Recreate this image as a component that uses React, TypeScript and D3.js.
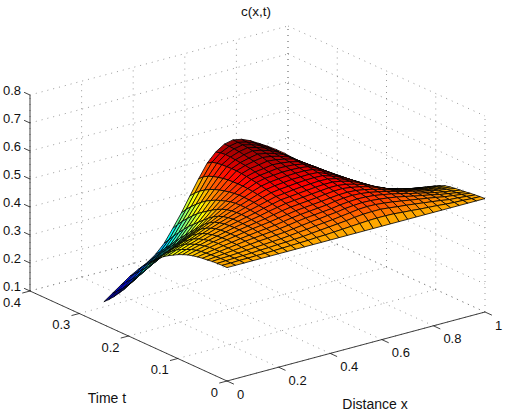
import React from "react";
import * as d3 from "d3";

const xTicks = [0, 0.2, 0.4, 0.6, 0.8, 1];
const tTicks = [0, 0.1, 0.2, 0.3, 0.4];
const zTicks = [0.1, 0.2, 0.3, 0.4, 0.5, 0.6, 0.7, 0.8];

// mesh: 31 x stations, 26 time rows
const xGrid = d3.range(31).map((i) => i / 30);
const tGrid = d3.range(26).map((k) => k / 100);

const t00 = [.505,.505,.505,.505,.505,.505,.505,.505,.505,.505,.505,.505,.505,.505,.505,.505,.505,.505,.505,.505,.505,.505,.505,.505,.505,.505,.505,.505,.505,.505,.505];
const t01 = [.505,.505,.506,.506,.507,.507,.508,.509,.510,.511,.512,.514,.515,.517,.519,.521,.523,.525,.526,.526,.525,.522,.520,.517,.515,.513,.510,.508,.507,.505,.504];
const t02 = [.504,.505,.506,.507,.508,.510,.511,.513,.514,.516,.518,.521,.524,.527,.530,.533,.537,.540,.541,.541,.538,.534,.531,.527,.523,.519,.515,.510,.508,.505,.502];
const t03 = [.503,.505,.506,.508,.510,.512,.514,.516,.518,.521,.524,.527,.531,.534,.537,.541,.545,.549,.551,.550,.547,.543,.538,.533,.528,.523,.518,.512,.508,.504,.500];
const t04 = [.500,.503,.506,.509,.512,.515,.518,.520,.523,.525,.529,.533,.537,.540,.544,.547,.552,.555,.557,.556,.553,.549,.544,.538,.531,.525,.519,.512,.507,.502,.497];
const t05 = [.498,.502,.506,.510,.514,.518,.521,.524,.527,.530,.534,.539,.543,.546,.549,.552,.557,.560,.562,.561,.558,.553,.547,.540,.532,.525,.518,.511,.505,.500,.495];
const t06 = [.495,.500,.505,.510,.514,.519,.523,.527,.530,.534,.539,.544,.548,.551,.554,.557,.562,.565,.567,.565,.561,.555,.548,.540,.531,.524,.516,.509,.503,.498,.493];
const t07 = [.491,.498,.504,.510,.515,.520,.525,.530,.534,.538,.543,.548,.553,.556,.559,.562,.566,.569,.570,.568,.563,.556,.547,.537,.527,.519,.512,.505,.499,.494,.490];
const t08 = [.486,.494,.501,.508,.514,.520,.526,.531,.536,.541,.547,.553,.558,.561,.564,.567,.571,.574,.575,.571,.565,.557,.546,.534,.522,.514,.506,.499,.494,.490,.486];
const t09 = [.479,.489,.497,.505,.512,.519,.526,.532,.538,.544,.551,.557,.563,.566,.569,.572,.575,.578,.578,.574,.566,.557,.544,.530,.515,.506,.498,.490,.485,.482,.479];
const t10 = [.471,.481,.491,.500,.509,.517,.525,.532,.539,.546,.554,.561,.568,.571,.574,.577,.580,.582,.582,.577,.568,.556,.541,.524,.508,.497,.488,.480,.476,.473,.470];
const t11 = [.461,.473,.484,.494,.504,.514,.523,.532,.540,.548,.556,.564,.572,.575,.579,.582,.584,.586,.585,.578,.567,.555,.538,.520,.503,.491,.481,.472,.467,.463,.460];
const t12 = [.451,.463,.475,.486,.497,.508,.519,.529,.539,.549,.559,.568,.577,.581,.584,.587,.589,.590,.589,.579,.567,.553,.535,.516,.498,.486,.475,.465,.459,.454,.450];
const t13 = [.439,.450,.462,.474,.487,.500,.513,.525,.537,.549,.560,.571,.581,.586,.589,.592,.593,.594,.592,.580,.566,.551,.532,.513,.494,.481,.469,.458,.451,.445,.440];
const t14 = [.425,.436,.448,.461,.475,.489,.503,.518,.533,.548,.561,.574,.585,.591,.594,.597,.598,.598,.595,.582,.566,.549,.529,.509,.490,.476,.463,.451,.443,.436,.429];
const t15 = [.408,.416,.427,.440,.457,.473,.490,.508,.527,.545,.561,.576,.589,.596,.599,.602,.602,.601,.597,.583,.566,.547,.526,.506,.487,.472,.457,.444,.435,.426,.418];
const t16 = [.387,.397,.409,.422,.438,.455,.473,.495,.518,.540,.559,.577,.592,.599,.603,.607,.606,.604,.598,.583,.565,.545,.524,.504,.485,.469,.453,.439,.428,.418,.408];
const t17 = [.361,.374,.388,.402,.419,.436,.455,.480,.508,.534,.556,.577,.595,.603,.607,.612,.610,.606,.599,.583,.564,.543,.522,.502,.483,.466,.449,.434,.422,.410,.399];
const t18 = [.333,.349,.365,.381,.399,.417,.437,.465,.496,.527,.552,.576,.597,.607,.612,.617,.614,.608,.600,.582,.562,.541,.520,.500,.481,.463,.445,.429,.416,.403,.391];
const t19 = [.306,.324,.342,.360,.378,.397,.418,.449,.484,.518,.547,.575,.599,.610,.617,.622,.618,.610,.600,.581,.560,.539,.518,.498,.479,.460,.441,.424,.410,.397,.384];
const t20 = [.281,.300,.320,.340,.359,.379,.400,.434,.471,.508,.541,.572,.599,.612,.620,.626,.621,.612,.600,.580,.558,.537,.516,.497,.478,.458,.439,.420,.405,.391,.378];
const t21 = [.257,.277,.298,.320,.340,.360,.380,.415,.455,.495,.533,.568,.598,.614,.624,.630,.624,.614,.600,.580,.557,.536,.515,.495,.476,.456,.436,.417,.401,.386,.372];
const t22 = [.236,.256,.278,.300,.320,.340,.360,.396,.438,.480,.523,.563,.597,.616,.627,.633,.626,.615,.600,.579,.557,.535,.514,.494,.474,.454,.434,.415,.398,.383,.368];
const t23 = [.216,.237,.260,.282,.302,.320,.340,.376,.420,.464,.511,.556,.594,.617,.629,.635,.628,.616,.600,.579,.556,.534,.513,.492,.472,.452,.432,.413,.396,.380,.365];
const t24 = [.198,.220,.243,.265,.284,.301,.320,.354,.400,.446,.496,.546,.590,.615,.630,.636,.629,.617,.600,.579,.555,.532,.511,.490,.470,.450,.430,.411,.394,.378,.362];
const t25 = [.182,.204,.226,.248,.265,.280,.302,.333,.378,.425,.478,.530,.578,.610,.630,.637,.631,.618,.600,.582,.562,.540,.515,.492,.470,.450,.431,.413,.395,.377,.360];
const rows = [t00,t01,t02,t03,t04,t05,t06,t07,t08,t09,t10,t11,t12,t13,t14,t15,t16,t17,t18,t19,t20,t21,t22,t23,t24,t25];

const xPx = d3.scaleLinear().domain([0, 1]).range([0, 258]);
const xPy = d3.scaleLinear().domain([0, 1]).range([0, -69]);
const tPx = d3.scaleLinear().domain([0, 0.4]).range([0, -197]);
const tPy = d3.scaleLinear().domain([0, 0.4]).range([0, -90]);
const zPy = d3.scaleLinear().domain([0.1, 0.8]).range([381, 185]);

const project = (x: number, t: number, z: number): [number, number] => [
  227 + xPx(x) + tPx(t),
  zPy(z) + xPy(x) + tPy(t),
];

const jet = d3
  .scaleLinear<string>()
  .domain([0, 0.125, 0.375, 0.625, 0.875, 1])
  .range(["#00007f", "#0000ff", "#00ffff", "#ffff00", "#ff0000", "#7f0000"])
  .clamp(true);
const allZ = rows.flat();
const zColor = d3.scaleLinear().domain([d3.min(allZ)!, d3.max(allZ)!]).range([0, 1]);

const path = d3.line();

export default function App() {
  // cells painted far to near
  const cells: { d: string; fill: string; depth: number }[] = [];
  for (let j = 0; j < tGrid.length - 1; j++) {
    for (let i = 0; i < xGrid.length - 1; i++) {
      const zs = [rows[j][i], rows[j][i + 1], rows[j + 1][i + 1], rows[j + 1][i]];
      const pts = [
        project(xGrid[i], tGrid[j], zs[0]),
        project(xGrid[i + 1], tGrid[j], zs[1]),
        project(xGrid[i + 1], tGrid[j + 1], zs[2]),
        project(xGrid[i], tGrid[j + 1], zs[3]),
      ];
      const xm = (xGrid[i] + xGrid[i + 1]) / 2;
      const tm = (tGrid[j] + tGrid[j + 1]) / 2;
      cells.push({
        d: path(pts)! + "Z",
        fill: jet(zColor(zs[0])), // flat colour, taken from the cell's first corner
        depth: 184.6 * xm + 604.5 * tm - 104.6 * d3.mean(zs)!,
      });
    }
  }
  cells.sort((a, b) => d3.descending(a.depth, b.depth));

  const seg = (a: [number, number, number], b: [number, number, number]) =>
    path([project(...a), project(...b)])!;
  const dotted = { stroke: "#555", strokeWidth: 0.6, strokeDasharray: "1 5", fill: "none" };
  const solid = { stroke: "#111", strokeWidth: 0.8, fill: "none" };
  const zLow = 0.1;
  const zHigh = 0.8;

  return (
    <svg
      width={516}
      height={416}
      style={{ position: "absolute", left: 0, top: 0 }}
      fontFamily="Liberation Sans"
      fontSize={13}
      fill="#111"
    >
      <g>
        {xTicks.map((x) => (
          <g key={x}>
            <path d={seg([x, 0, zLow], [x, 0.4, zLow])} {...dotted} />
            <path d={seg([x, 0.4, zLow], [x, 0.4, zHigh])} {...dotted} />
          </g>
        ))}
        {tTicks.map((t) => (
          <g key={t}>
            <path d={seg([0, t, zLow], [1, t, zLow])} {...dotted} />
            <path d={seg([1, t, zLow], [1, t, zHigh])} {...dotted} />
          </g>
        ))}
        {zTicks.map((z) => (
          <g key={z}>
            <path d={seg([0, 0.4, z], [1, 0.4, z])} {...dotted} />
            <path d={seg([1, 0.4, z], [1, 0, z])} {...dotted} />
          </g>
        ))}
      </g>
      <path d={seg([0, 0, zLow], [1, 0, zLow])} {...solid} />
      <path d={seg([0, 0, zLow], [0, 0.4, zLow])} {...solid} />
      <path d={seg([0, 0.4, zLow], [0, 0.4, zHigh])} {...solid} />
      {xTicks.map((x) => (
        <path key={x} d={seg([x, 0, zLow], [x, -0.014, zLow])} {...solid} />
      ))}
      {tTicks.map((t) => (
        <path key={t} d={seg([0, t, zLow], [-0.03, t, zLow])} {...solid} />
      ))}
      {zTicks.map((z) => (
        <path key={z} d={seg([0, 0.4, z], [0, 0.412, z])} {...solid} />
      ))}
      <g>
        {cells.map((c, i) => (
          <path key={i} d={c.d} fill={c.fill} stroke="#000" strokeWidth={0.8} strokeLinejoin="round" />
        ))}
      </g>
      <g dominantBaseline="central">
        {zTicks.map((z) => (
          <text key={z} x={12} y={project(0, 0.4, z)[1] - 4.5} textAnchor="middle">
            {z}
          </text>
        ))}
        {tTicks.map((t) => (
          <text key={t} x={project(0, t, zLow)[0] - 9} y={project(0, t, zLow)[1] + 11} textAnchor="end">
            {t}
          </text>
        ))}
        {xTicks.map((x) => (
          <text key={x} x={project(x, 0, zLow)[0] + 10} y={project(x, 0, zLow)[1] + 13}>
            {x}
          </text>
        ))}
      </g>
      <g dominantBaseline="central" textAnchor="middle" fontSize={14}>
        <text x={256} y={11} fontSize={13.5}>c(x,t)</text>
        <text x={107} y={398}>Time t</text>
        <text x={375} y={404}>Distance x</text>
      </g>
    </svg>
  );
}
